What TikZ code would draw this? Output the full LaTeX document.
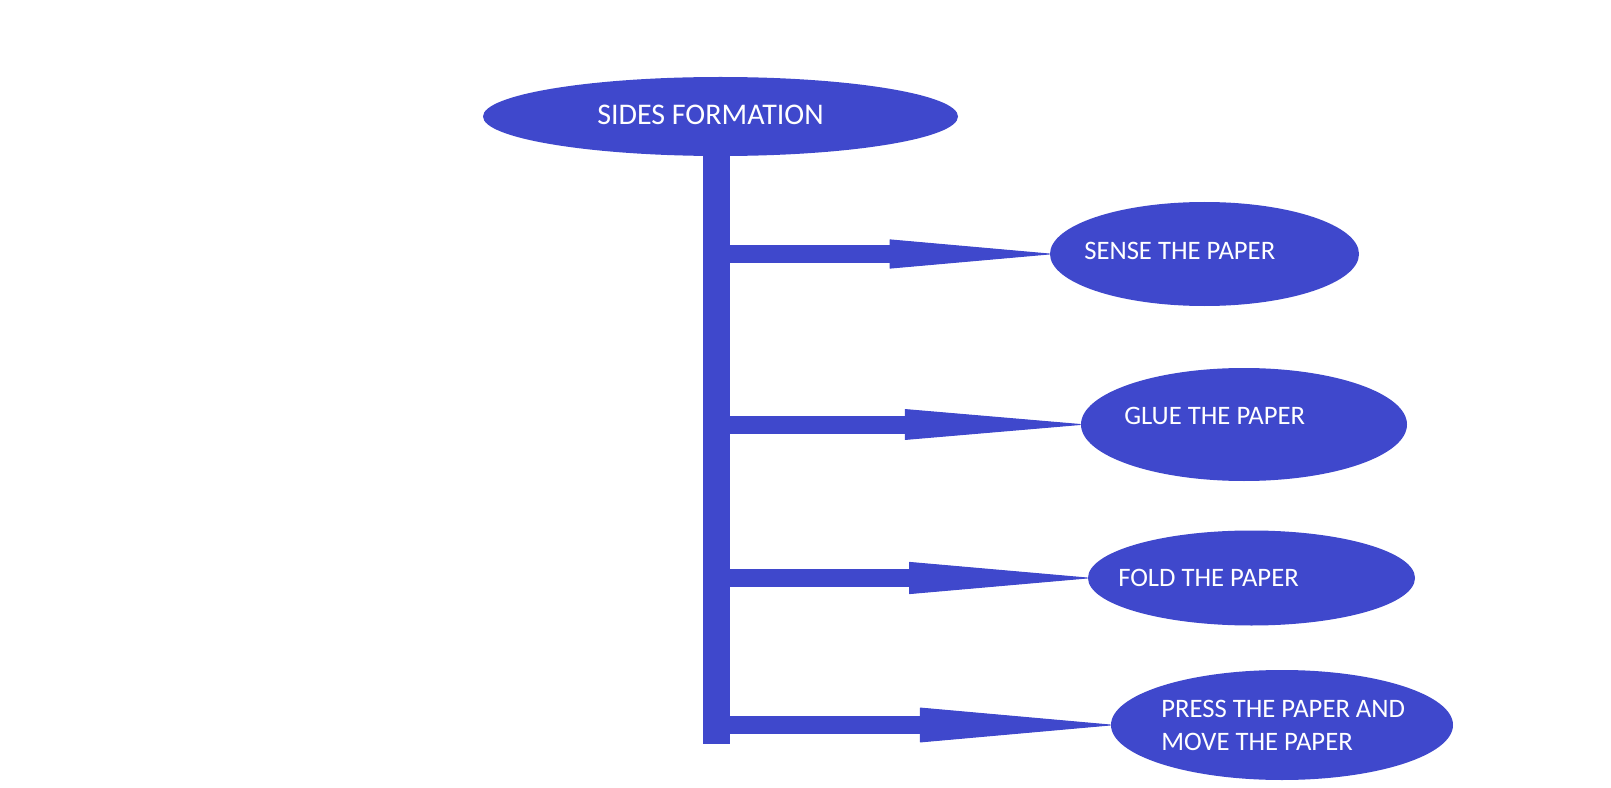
\documentclass[tikz,border=0pt]{standalone}
\usepackage{fontspec}
\setmainfont{Carlito}
\usetikzlibrary{shapes.geometric,arrows.meta}
\definecolor{paintblue}{RGB}{63,72,204}
\tikzset{
  blob/.style={ellipse, fill=paintblue, inner sep=0pt},
  lbl/.style={text=white, inner sep=0pt, anchor=west, align=left, font=\fontsize{20}{24.5}\selectfont},
  branch/.style 2 args={draw=paintblue, line width=13.5pt, -{Triangle[length=#1,width=#2,line width=0.75pt,round]}},
}

\begin{document}
\begin{tikzpicture}[x=0.75pt,y=0.75pt,yscale=-1,xscale=1]
\useasboundingbox (0,0) rectangle (1611,788);

        % title and trunk
        \node [blob, minimum width=356.25pt, minimum height=59.25pt] (top) at (720.5,116.5) {};
        \node [text=white, inner sep=0pt, font=\fontsize{22.5}{26}\selectfont] (toplbl) at (710.5,115) {SIDES FORMATION};
        \coordinate (trunk) at (716.5,156);
        \coordinate (trunkend) at (716.5,744);
        \draw [paintblue, line width=20.25pt] (trunk) -- (trunkend);

        % steps
        \node [blob, minimum width=231.75pt, minimum height=78pt] (sense) at (1204.5,254) {};
        \node [blob, minimum width=244.5pt, minimum height=84.75pt] (glue) at (1244,424.5) {};
        \node [blob, minimum width=245.25pt, minimum height=71.25pt] (fold) at (1251.5,578) {};
        \node [blob, minimum width=256.5pt, minimum height=82.5pt] (press) at (1282,725) {};

        \node [lbl] (senselbl) at (1084,251) {SENSE THE PAPER};
        \node [lbl] (gluelbl) at (1124,416) {GLUE THE PAPER};
        \node [lbl] (foldlbl) at (1118,578) {FOLD THE PAPER};
        \node [lbl] (presslbl) at (1161,725.5) {PRESS THE PAPER AND\\MOVE THE PAPER};

        \draw [branch={124pt}{21.75pt}] (trunk |- sense.west) -- (sense.west);
        \draw [branch={136pt}{23pt}] (trunk |- glue.west) -- (glue.west);
        \draw [branch={138pt}{24pt}] (trunk |- fold.west) -- (fold.west);
        \draw [branch={147pt}{26pt}] (trunk |- press.west) -- (press.west);
\end{tikzpicture}
\end{document}
